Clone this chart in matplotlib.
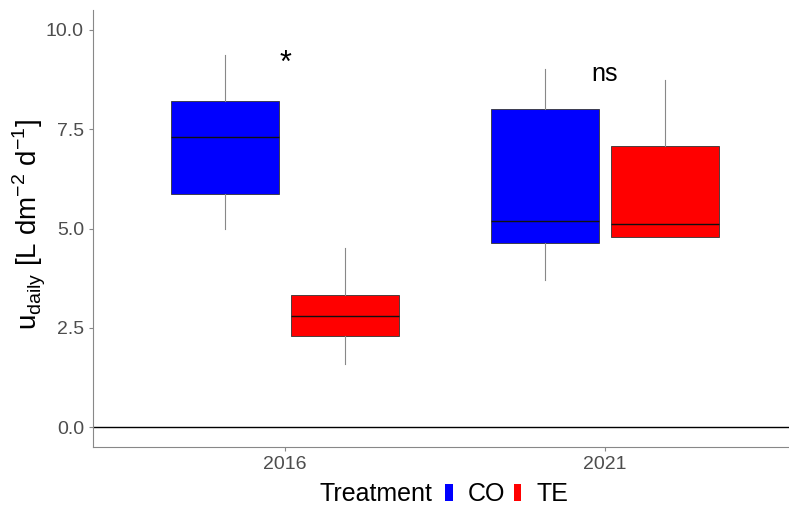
import matplotlib
matplotlib.use("Agg")
import matplotlib.pyplot as plt
from matplotlib.patches import Patch

plt.rcParams['font.family'] = ['Liberation Sans', 'DejaVu Sans']

years = ["2016", "2021"]
treatments = ["CO", "TE"]
colors = {"CO": "#0000FF", "TE": "#FF0000"}
# five-number summaries: whislo, q1, med, q3, whishi
co_stats = [[4.99, 5.87, 7.30, 8.21, 9.37], [3.70, 4.63, 5.19, 8.01, 9.02]]
te_stats = [[1.59, 2.29, 2.80, 3.32, 4.51], [4.79, 4.79, 5.11, 7.08, 8.74]]
annotations = ["*", "ns"]
annot_y = [9.15, 8.9]

fig = plt.figure(figsize=(7.89, 5.08), dpi=100)
ax = fig.add_axes([93/789, 61/508, 1 - 93/789, (447-10)/508])

offset = 0.1875
width = 0.3375
for t, stats_list, sgn in [("CO", co_stats, -1), ("TE", te_stats, 1)]:
    stats = []
    for s in stats_list:
        stats.append(dict(whislo=s[0], q1=s[1], med=s[2], q3=s[3], whishi=s[4], fliers=[]))
    pos = [i + 1 + sgn * offset for i in range(len(years))]
    bp = ax.bxp(stats, positions=pos, widths=width, patch_artist=True, showcaps=False,
                boxprops=dict(facecolor=colors[t], edgecolor="#333333", linewidth=0.6),
                medianprops=dict(color="#111111", linewidth=1.0),
                whiskerprops=dict(color="#888888", linewidth=0.8),
                manage_ticks=False, zorder=2)
    for m in bp["medians"]:
        m.set_zorder(5)

ax.axhline(0, color="black", linewidth=1.0, zorder=1)

for i, (a, yv) in enumerate(zip(annotations, annot_y)):
    ax.text(i + 1, yv, a, ha="center", va="center", fontsize=18 if a == "ns" else 22,
            color="black", fontweight="normal")

ax.set_xlim(0.4, 0.4 + 696/320)
ax.set_ylim(-0.5, 10.5)
ax.set_xticks([1, 2])
ax.set_xticklabels(years)
ax.set_yticks([0, 2.5, 5.0, 7.5, 10.0])
ax.set_yticklabels(["0.0", "2.5", "5.0", "7.5", "10.0"])
ax.tick_params(axis="both", labelsize=14, colors="#888888", labelcolor="#4D4D4D", length=3, width=0.8)
for side in ["top", "right"]:
    ax.spines[side].set_visible(False)
for side in ["left", "bottom"]:
    ax.spines[side].set_color("#888888")
    ax.spines[side].set_linewidth(0.8)
ax.set_ylabel(r"u$_{\mathregular{daily}}$ [L dm$^{\mathregular{-2}}$ d$^{\mathregular{-1}}$]", fontsize=20)
ax.yaxis.set_label_coords(-0.065, 0.51)

fig.text(320/789, 1 - 494/508, "Treatment", fontsize=18, ha="left", va="center")
handles = [Patch(facecolor=colors[t], edgecolor="none", label=t) for t in treatments]
fig.legend(handles=handles, ncol=2, loc="center left", bbox_to_anchor=(445/789, 1 - 494/508),
           frameon=False, fontsize=18, handlelength=0.3, handleheight=0.7, handletextpad=0.6,
           columnspacing=0.35, borderaxespad=0, borderpad=0)

fig.savefig("out.png", dpi=100)
